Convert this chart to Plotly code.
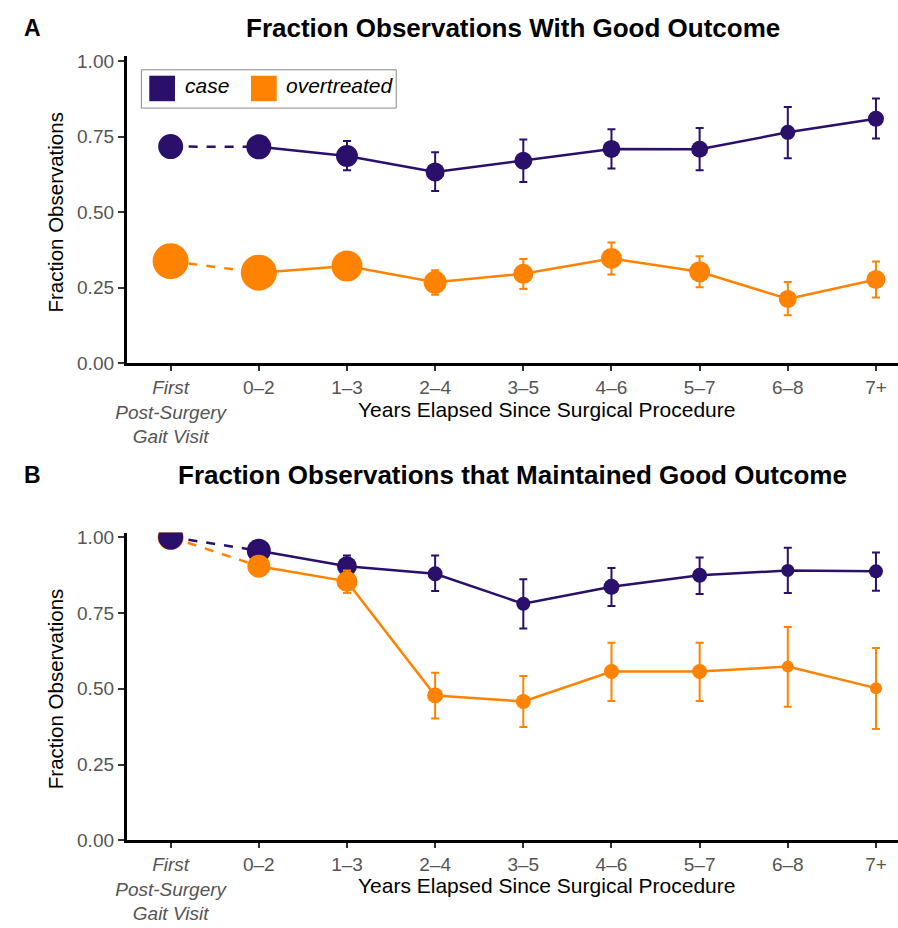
import plotly.graph_objects as go

# ---------------- data ----------------
categories = ["First", "0–2", "1–3", "2–4", "3–5", "4–6", "5–7", "6–8", "7+"]
tick_labels = ["<i>First<br>Post-Surgery<br>Gait Visit</i>", "0–2", "1–3", "2–4",
               "3–5", "4–6", "5–7", "6–8", "7+"]
y_ticks = [0.0, 0.25, 0.5, 0.75, 1.0]
y_tick_labels = ["0.00", "0.25", "0.50", "0.75", "1.00"]

# Panel A: fraction observations with good outcome
a_case = [0.717, 0.716, 0.686, 0.633, 0.670, 0.709, 0.708, 0.764, 0.809]
a_case_lo = [0.717, 0.716, 0.639, 0.570, 0.600, 0.644, 0.639, 0.678, 0.744]
a_case_hi = [0.717, 0.716, 0.735, 0.698, 0.740, 0.774, 0.778, 0.848, 0.876]
a_over = [0.338, 0.300, 0.322, 0.268, 0.296, 0.347, 0.303, 0.213, 0.277]
a_over_lo = [0.338, 0.300, 0.300, 0.227, 0.246, 0.294, 0.252, 0.159, 0.218]
a_over_hi = [0.338, 0.300, 0.345, 0.308, 0.345, 0.400, 0.354, 0.269, 0.337]

# Panel B: fraction observations that maintained good outcome
b_case = [1.000, 0.955, 0.904, 0.879, 0.780, 0.836, 0.874, 0.890, 0.887]
b_case_lo = [1.000, 0.955, 0.870, 0.822, 0.699, 0.773, 0.812, 0.816, 0.823]
b_case_hi = [1.000, 0.955, 0.939, 0.939, 0.861, 0.898, 0.933, 0.965, 0.949]
b_over = [1.000, 0.904, 0.854, 0.478, 0.458, 0.557, 0.557, 0.573, 0.502]
b_over_lo = [1.000, 0.904, 0.816, 0.402, 0.374, 0.460, 0.460, 0.441, 0.367]
b_over_hi = [1.000, 0.904, 0.890, 0.553, 0.542, 0.652, 0.652, 0.704, 0.634]

# marker diameters (style, px) roughly proportional to group size
px_a_case = [25, 25, 22, 19, 18, 18, 17, 15, 16]
px_a_over = [36, 36, 31, 23, 20, 21, 21, 18, 19]
px_b_case = [25, 24, 20, 15, 14, 16, 15, 13, 14]
px_b_over = [26, 23, 21, 16, 15, 15, 15, 12, 12]

CASE = "#2A0F6B"
OVER = "#FF8300"
FONT = "Liberation Sans"
TICK_SIZE = 19
LAB_SIZE = 21

fig = go.Figure()


def add_series(xa, ya, vals, color):
    # dashed connector from first visit to first interval
    fig.add_trace(go.Scatter(
        x=categories[:2], y=vals[:2], mode="lines", xaxis=xa, yaxis=ya,
        line=dict(color=color, width=2.5, dash="dash"), showlegend=False,
        hoverinfo="skip"))
    # solid line over intervals
    fig.add_trace(go.Scatter(
        x=categories[1:], y=vals[1:], mode="lines", xaxis=xa, yaxis=ya,
        line=dict(color=color, width=2.5), showlegend=False, hoverinfo="skip"))


def add_markers(xa, ya, vals, lo, hi, sizes, color, idx):
    xs = [categories[i] for i in idx]
    ys = [vals[i] for i in idx]
    plus = [hi[i] - vals[i] for i in idx]
    minus = [vals[i] - lo[i] for i in idx]
    fig.add_trace(go.Scatter(
        x=xs, y=ys, mode="markers", xaxis=xa, yaxis=ya,
        marker=dict(color=color, size=[sizes[i] for i in idx], opacity=1,
                    line=dict(width=0)),
        error_y=dict(type="data", symmetric=False, array=plus,
                     arrayminus=minus, color=color, thickness=2, width=4),
        showlegend=False))


rest = list(range(1, 9))
# Panel A
add_series("x", "y", a_case, CASE)
add_series("x", "y", a_over, OVER)
add_markers("x", "y", a_over, a_over_lo, a_over_hi, px_a_over, OVER, [0])
add_markers("x", "y", a_case, a_case_lo, a_case_hi, px_a_case, CASE, [0])
add_markers("x", "y", a_case, a_case_lo, a_case_hi, px_a_case, CASE, rest)
add_markers("x", "y", a_over, a_over_lo, a_over_hi, px_a_over, OVER, rest)
# Panel B
add_series("x2", "y2", b_case, CASE)
add_series("x2", "y2", b_over, OVER)
add_markers("x2", "y2", b_over, b_over_lo, b_over_hi, px_b_over, OVER, [0])
add_markers("x2", "y2", b_case, b_case_lo, b_case_hi, px_b_case, CASE, [0])
add_markers("x2", "y2", b_case, b_case_lo, b_case_hi, px_b_case, CASE, rest)
add_markers("x2", "y2", b_over, b_over_lo, b_over_hi, px_b_over, OVER, rest)

W, H = 898, 928
X0 = 117 / W
YTOP = 1.015


def xaxis_cfg(anchor):
    return dict(
        domain=[X0, 1.0], anchor=anchor, type="category",
        categoryorder="array", categoryarray=categories,
        range=[-0.5, 8.25], tickmode="array", tickvals=categories,
        ticktext=tick_labels, showline=True, linecolor="black", linewidth=2.5,
        ticks="outside", ticklen=5, tickwidth=1.5, tickcolor="#333333",
        tickfont=dict(family=FONT, size=TICK_SIZE, color="#555555"),
        showgrid=False, zeroline=False, fixedrange=True)


def yaxis_cfg(anchor, domain):
    return dict(
        domain=domain, anchor=anchor, range=[0, YTOP], tickmode="array",
        tickvals=y_ticks, ticktext=y_tick_labels, showline=True,
        linecolor="black", linewidth=2.5, ticks="outside", ticklen=6,
        tickwidth=1.5, tickcolor="#333333",
        tickfont=dict(family=FONT, size=TICK_SIZE, color="#555555"),
        showgrid=False, zeroline=False, fixedrange=True)


# A: 0 at y=364px, 1 at y=56px ; B: 0 at y=850px, 1 at y=541px
ya_top = 364 - (364 - 56) * YTOP
yb_top = 850 - (850 - 541) * YTOP
ya_dom = [1 - 364 / H, 1 - ya_top / H]
yb_dom = [1 - 850 / H, 1 - yb_top / H]

annotations = []
for txt, yy in [("A", 22), ("B", 478)]:
    annotations.append(dict(text="<b>%s</b>" % txt, x=22 / W, y=1 - yy / H,
                            xref="paper", yref="paper", showarrow=False,
                            xanchor="center", yanchor="middle",
                            font=dict(family=FONT, size=23, color="black")))
for txt, yy in [("Fraction Observations With Good Outcome", 22),
                ("Fraction Observations that Maintained Good Outcome", 478)]:
    annotations.append(dict(text="<b>%s</b>" % txt, x=508 / W, y=1 - yy / H,
                            xref="paper", yref="paper", showarrow=False,
                            xanchor="center", yanchor="middle",
                            font=dict(family=FONT, size=26, color="black")))
for yy in [411, 896]:
    annotations.append(dict(text="Years Elapsed Since Surgical Procedure",
                            x=542 / W, y=1 - yy / H, xref="paper",
                            yref="paper", showarrow=False, xanchor="center",
                            yanchor="middle",
                            font=dict(family=FONT, size=LAB_SIZE, color="black")))
for yy in [(364 + 56) / 2, (850 + 541) / 2]:
    annotations.append(dict(text="Fraction Observations", textangle=-90,
                            x=45 / W, y=1 - yy / H, xref="paper",
                            yref="paper", showarrow=False, xanchor="center",
                            yanchor="middle",
                            font=dict(family=FONT, size=20.5, color="black")))

# legend drawn manually (large square keys)
shapes = [
    dict(type="rect", xref="paper", yref="paper", x0=132 / W, x1=390 / W,
         y0=1 - 104 / H, y1=1 - 65 / H, line=dict(color="#888888", width=1),
         fillcolor="white", layer="above"),
    dict(type="rect", xref="paper", yref="paper", x0=140 / W, x1=166 / W,
         y0=1 - 97 / H, y1=1 - 71 / H, line=dict(width=0), fillcolor=CASE,
         layer="above"),
    dict(type="rect", xref="paper", yref="paper", x0=243 / W, x1=269 / W,
         y0=1 - 97 / H, y1=1 - 71 / H, line=dict(width=0), fillcolor=OVER,
         layer="above"),
]
for txt, xx in [("case", 174), ("overtreated", 276)]:
    annotations.append(dict(text="<i>%s</i>" % txt, x=xx / W, y=1 - 81 / H,
                            xref="paper", yref="paper", showarrow=False,
                            xanchor="left", yanchor="middle",
                            font=dict(family=FONT, size=LAB_SIZE, color="black")))

fig.update_layout(
    width=W, height=H, margin=dict(l=0, r=0, t=0, b=0),
    paper_bgcolor="white", plot_bgcolor="white", showlegend=False,
    xaxis=xaxis_cfg("y"), yaxis=yaxis_cfg("x", ya_dom),
    xaxis2=xaxis_cfg("y2"), yaxis2=yaxis_cfg("x2", yb_dom),
    annotations=annotations, shapes=shapes,
    font=dict(family=FONT),
)

fig.write_html("out.html")
